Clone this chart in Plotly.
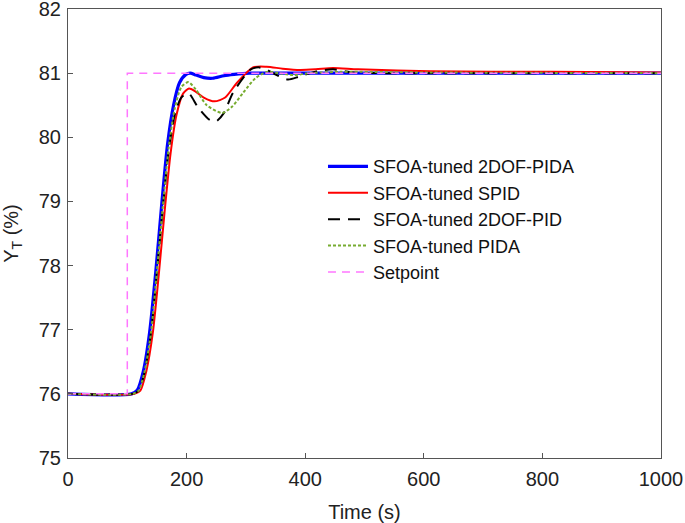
import plotly.graph_objects as go

# Data
t_pida2 = [0, 107, 117, 127, 137.5, 148, 158, 168, 178, 188, 199, 206, 216, 229, 244, 263, 280, 306, 356, 600, 1000]
y_pida2 = [76, 76, 76.06, 76.35, 76.95, 77.9, 78.95, 79.9, 80.5, 80.85, 80.98, 81.0, 80.97, 80.93, 80.92, 80.96, 80.98, 81.0, 81.0, 81.0, 81.0]

t_spid = [0, 112, 122, 132, 143, 153, 163, 173, 183, 194, 204, 214, 229, 247, 265, 285, 312, 335, 362, 391, 418, 447, 489, 611, 815, 1000]
y_spid = [76, 76, 76.05, 76.35, 76.95, 77.85, 78.85, 79.75, 80.35, 80.68, 80.76, 80.72, 80.62, 80.56, 80.62, 80.85, 81.09, 81.1, 81.07, 81.05, 81.06, 81.08, 81.06, 81.03, 81.02, 81.01]

t_pid2 = [0, 109, 119, 129, 140, 150, 160, 170, 180, 191, 203, 219, 239, 250, 263, 278, 307, 321, 336, 352, 371, 391, 420, 447, 481, 611, 1000]
y_pid2 = [76, 76, 76.05, 76.33, 76.95, 77.9, 78.9, 79.8, 80.35, 80.62, 80.69, 80.47, 80.27, 80.25, 80.38, 80.69, 81.05, 81.09, 81.05, 80.97, 80.9, 80.95, 81.03, 81.06, 81.01, 81.0, 81.0]

t_pida = [0, 109, 119, 129, 140, 150, 160, 170, 180, 191, 203, 216, 234, 260, 277, 295, 316, 335, 356, 380, 407, 458, 611, 1000]
y_pida = [76, 76, 76.05, 76.34, 76.96, 77.92, 78.93, 79.85, 80.45, 80.78, 80.86, 80.74, 80.5, 80.38, 80.48, 80.69, 80.92, 81.02, 81.0, 80.97, 81.0, 81.02, 81.01, 81.0]

t_set = [0, 100, 100, 1000]
y_set = [76, 76, 81, 81]

x_ticks = [0, 200, 400, 600, 800, 1000]
y_ticks = [75, 76, 77, 78, 79, 80, 81, 82]

FONT = "Liberation Sans, Arial, sans-serif"

fig = go.Figure()
fig.add_trace(go.Scatter(x=t_pida2, y=y_pida2, mode="lines", name="SFOA-tuned 2DOF-PIDA",
                         line=dict(color="#0000FF", width=3.2, shape="spline", smoothing=0.7)))
fig.add_trace(go.Scatter(x=t_spid, y=y_spid, mode="lines", name="SFOA-tuned SPID",
                         line=dict(color="#FF0000", width=2, shape="spline", smoothing=0.7)))
fig.add_trace(go.Scatter(x=t_pid2, y=y_pid2, mode="lines", name="SFOA-tuned 2DOF-PID",
                         line=dict(color="#000000", width=2, dash="12px,8px", shape="spline", smoothing=0.7)))
fig.add_trace(go.Scatter(x=t_pida, y=y_pida, mode="lines", name="SFOA-tuned PIDA",
                         line=dict(color="#77AC30", width=2, dash="3px,2px", shape="spline", smoothing=0.7)))
fig.add_trace(go.Scatter(x=t_set, y=y_set, mode="lines", name="Setpoint",
                         line=dict(color="#FF77FF", width=1.5, dash="8px,6px")))

axis_common = dict(showline=True, linecolor="#555555", linewidth=1, mirror=True,
                   ticks="inside", ticklen=5, tickcolor="#555555", showgrid=False, zeroline=False,
                   ticklabeloverflow="allow", automargin=False,
                   tickfont=dict(family=FONT, size=20, color="#222222"))

fig.update_layout(
    width=685, height=523,
    margin=dict(l=68, r=24, t=9, b=65),
    plot_bgcolor="white", paper_bgcolor="white",
    xaxis=dict(range=[0, 1000], tickvals=x_ticks, ticklabelstandoff=3,
               title=dict(text="Time (s)", standoff=16,
               font=dict(family=FONT, size=20, color="#222222")), **axis_common),
    yaxis=dict(range=[75, 82], tickvals=y_ticks, ticklabelstandoff=2,
               title=dict(text="Y<sub>T</sub> (%)", standoff=16,
               font=dict(family=FONT, size=20, color="#222222")), **axis_common),
    legend=dict(x=0.43, y=0.69, xanchor="left", yanchor="top", bgcolor="rgba(0,0,0,0)",
                font=dict(family=FONT, size=18, color="#111111"),
                itemwidth=40, tracegroupgap=0),
    showlegend=True,
)

fig.write_html("out.html")
